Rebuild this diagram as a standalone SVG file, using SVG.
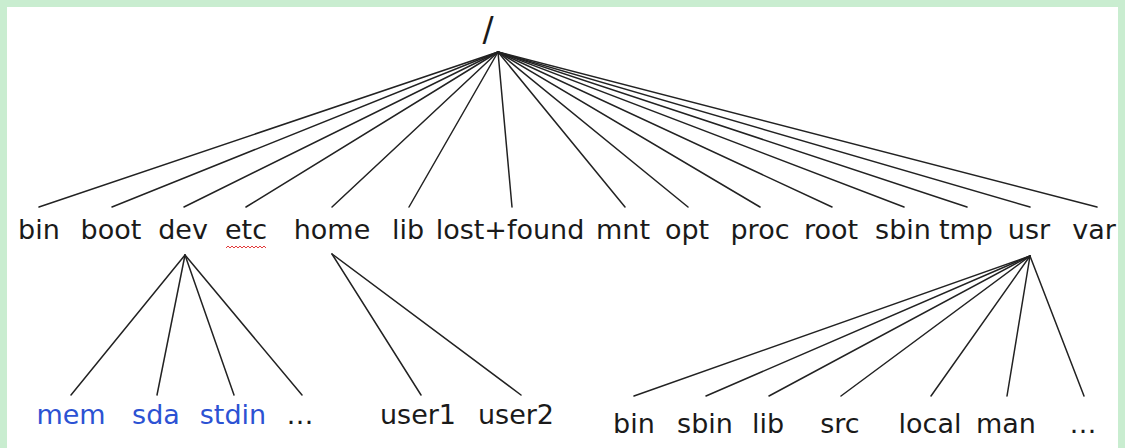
<svg xmlns="http://www.w3.org/2000/svg" width="1125" height="448" viewBox="0 0 1125 448">
<style>
.t{font-family:"DejaVu Sans","Verdana",sans-serif;font-size:27px;fill:#1a1a1a;text-anchor:middle}
.b{fill:#2c52d3}
.c line{stroke:#222;stroke-width:1.5;stroke-linecap:round}
</style>
<rect x="0" y="0" width="1125" height="448" fill="#c9edd0"/>
<rect x="7" y="7" width="1111" height="441" fill="#ffffff"/>
<g class="c" id="connectors">
<line x1="498" y1="52" x2="39" y2="207"/>
<line x1="498" y1="52" x2="112" y2="207"/>
<line x1="498" y1="52" x2="184" y2="207"/>
<line x1="498" y1="52" x2="246" y2="207"/>
<line x1="498" y1="52" x2="332" y2="207"/>
<line x1="498" y1="52" x2="409" y2="207"/>
<line x1="498" y1="52" x2="512" y2="207"/>
<line x1="498" y1="52" x2="625" y2="207"/>
<line x1="498" y1="52" x2="688" y2="207"/>
<line x1="498" y1="52" x2="760" y2="207"/>
<line x1="498" y1="52" x2="832" y2="207"/>
<line x1="498" y1="52" x2="904" y2="207"/>
<line x1="498" y1="52" x2="967" y2="207"/>
<line x1="498" y1="52" x2="1030" y2="207"/>
<line x1="498" y1="52" x2="1097" y2="207"/>
<line x1="185" y1="255" x2="71" y2="395"/>
<line x1="185" y1="255" x2="157" y2="395"/>
<line x1="185" y1="255" x2="234" y2="395"/>
<line x1="185" y1="255" x2="302" y2="395"/>
<line x1="332" y1="254" x2="421" y2="395"/>
<line x1="332" y1="254" x2="521" y2="395"/>
<line x1="1030" y1="256" x2="634" y2="396"/>
<line x1="1030" y1="256" x2="706" y2="396"/>
<line x1="1030" y1="256" x2="769" y2="396"/>
<line x1="1030" y1="256" x2="841" y2="396"/>
<line x1="1030" y1="256" x2="931" y2="396"/>
<line x1="1030" y1="256" x2="1007" y2="396"/>
<line x1="1030" y1="256" x2="1084" y2="396"/>
</g>
<g id="root"><text class="t" x="488" y="41" style="font-size:33px">/</text></g>
<g id="bin"><text class="t" x="39" y="239">bin</text></g>
<g id="boot"><text class="t" x="111" y="239">boot</text></g>
<g id="dev"><text class="t" x="183" y="239">dev</text></g>
<g id="etc"><text class="t" x="246" y="239">etc</text>
<path d="M226 248 l2 -2 l2 2 l2 -2 l2 2 l2 -2 l2 2 l2 -2 l2 2 l2 -2 l2 2 l2 -2 l2 2 l2 -2 l2 2 l2 -2 l2 2 l2 -2 l2 2 l2 -2 l2 2" fill="none" stroke="#e23b3b" stroke-width="1"/></g>
<g id="home"><text class="t" x="332" y="239">home</text></g>
<g id="lib"><text class="t" x="408" y="239">lib</text></g>
<g id="lostfound"><text class="t" x="510" y="239">lost+found</text></g>
<g id="mnt"><text class="t" x="623" y="239">mnt</text></g>
<g id="opt"><text class="t" x="687" y="239">opt</text></g>
<g id="proc"><text class="t" x="760" y="239">proc</text></g>
<g id="rootdir"><text class="t" x="831" y="239">root</text></g>
<g id="sbin"><text class="t" x="903" y="239">sbin</text></g>
<g id="tmp"><text class="t" x="966" y="239">tmp</text></g>
<g id="usr"><text class="t" x="1029" y="239">usr</text></g>
<g id="var"><text class="t" x="1094" y="239">var</text></g>
<g id="mem"><text class="t b" x="71" y="424">mem</text></g>
<g id="sda"><text class="t b" x="156" y="424">sda</text></g>
<g id="stdin"><text class="t b" x="233" y="424">stdin</text></g>
<g id="devmore"><text class="t" x="300" y="424">…</text></g>
<g id="user1"><text class="t" x="418" y="424">user1</text></g>
<g id="user2"><text class="t" x="516" y="424">user2</text></g>
<g id="usrbin"><text class="t" x="634" y="433">bin</text></g>
<g id="usrsbin"><text class="t" x="705" y="433">sbin</text></g>
<g id="usrlib"><text class="t" x="768" y="433">lib</text></g>
<g id="usrsrc"><text class="t" x="840" y="433">src</text></g>
<g id="usrlocal"><text class="t" x="930" y="433">local</text></g>
<g id="usrman"><text class="t" x="1006" y="433">man</text></g>
<g id="usrmore"><text class="t" x="1083" y="433">…</text></g>
</svg>
